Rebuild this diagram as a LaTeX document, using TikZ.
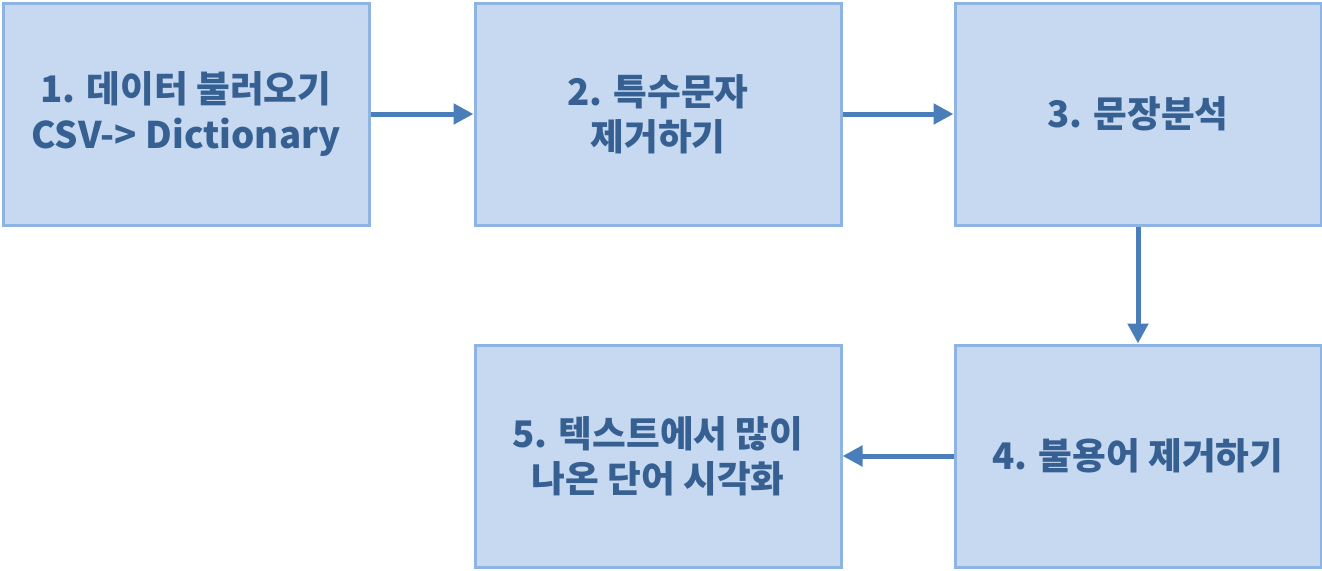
\documentclass[tikz,border=0pt]{standalone}
\usepackage{fontspec}
\setmainfont{Noto Sans CJK KR}
\usetikzlibrary{arrows.meta,positioning}
\definecolor{stepfill}{HTML}{C6D9F1}
\definecolor{stepline}{HTML}{8EB4E3}
\definecolor{stepink}{HTML}{376092}
\definecolor{flowblue}{HTML}{4A7EBB}
\tikzset{
  stage/.style={draw=stepline, fill=stepfill, line width=2.25pt,
    minimum width=274.5pt, minimum height=166.5pt, align=center,
    font=\fontsize{27.5}{34}\selectfont\bfseries, text=stepink},
  flow/.style={-{Triangle[length=15pt,width=15pt]}, line width=3.75pt, flowblue},
}
\begin{document}
\begin{tikzpicture}

\useasboundingbox (0,0) rectangle (991.5pt,-428.25pt);

% ---- top row ---------------------------------------------------------
\node[stage] (load) at (139.5pt,-85.5pt) {1. 데이터 불러오기\\CSV-> Dictionary};
\node[stage, right=77.25pt of load] (clean) {2. 특수문자\\제거하기};
\node[stage, right=83.25pt of clean] (parse) {3. 문장분석};

% ---- bottom row ------------------------------------------------------
\node[stage, below=87.75pt of parse] (stop) {4. 불용어 제거하기};
\node[stage, left=83.25pt of stop] (viz) {5. 텍스트에서 많이\\나온 단어 시각화};

\draw[flow] (load) -- (clean);
\draw[flow] (clean) -- (parse);
\draw[flow] (parse) -- (stop);
\draw[flow] (stop) -- (viz);

\end{tikzpicture}
\end{document}
